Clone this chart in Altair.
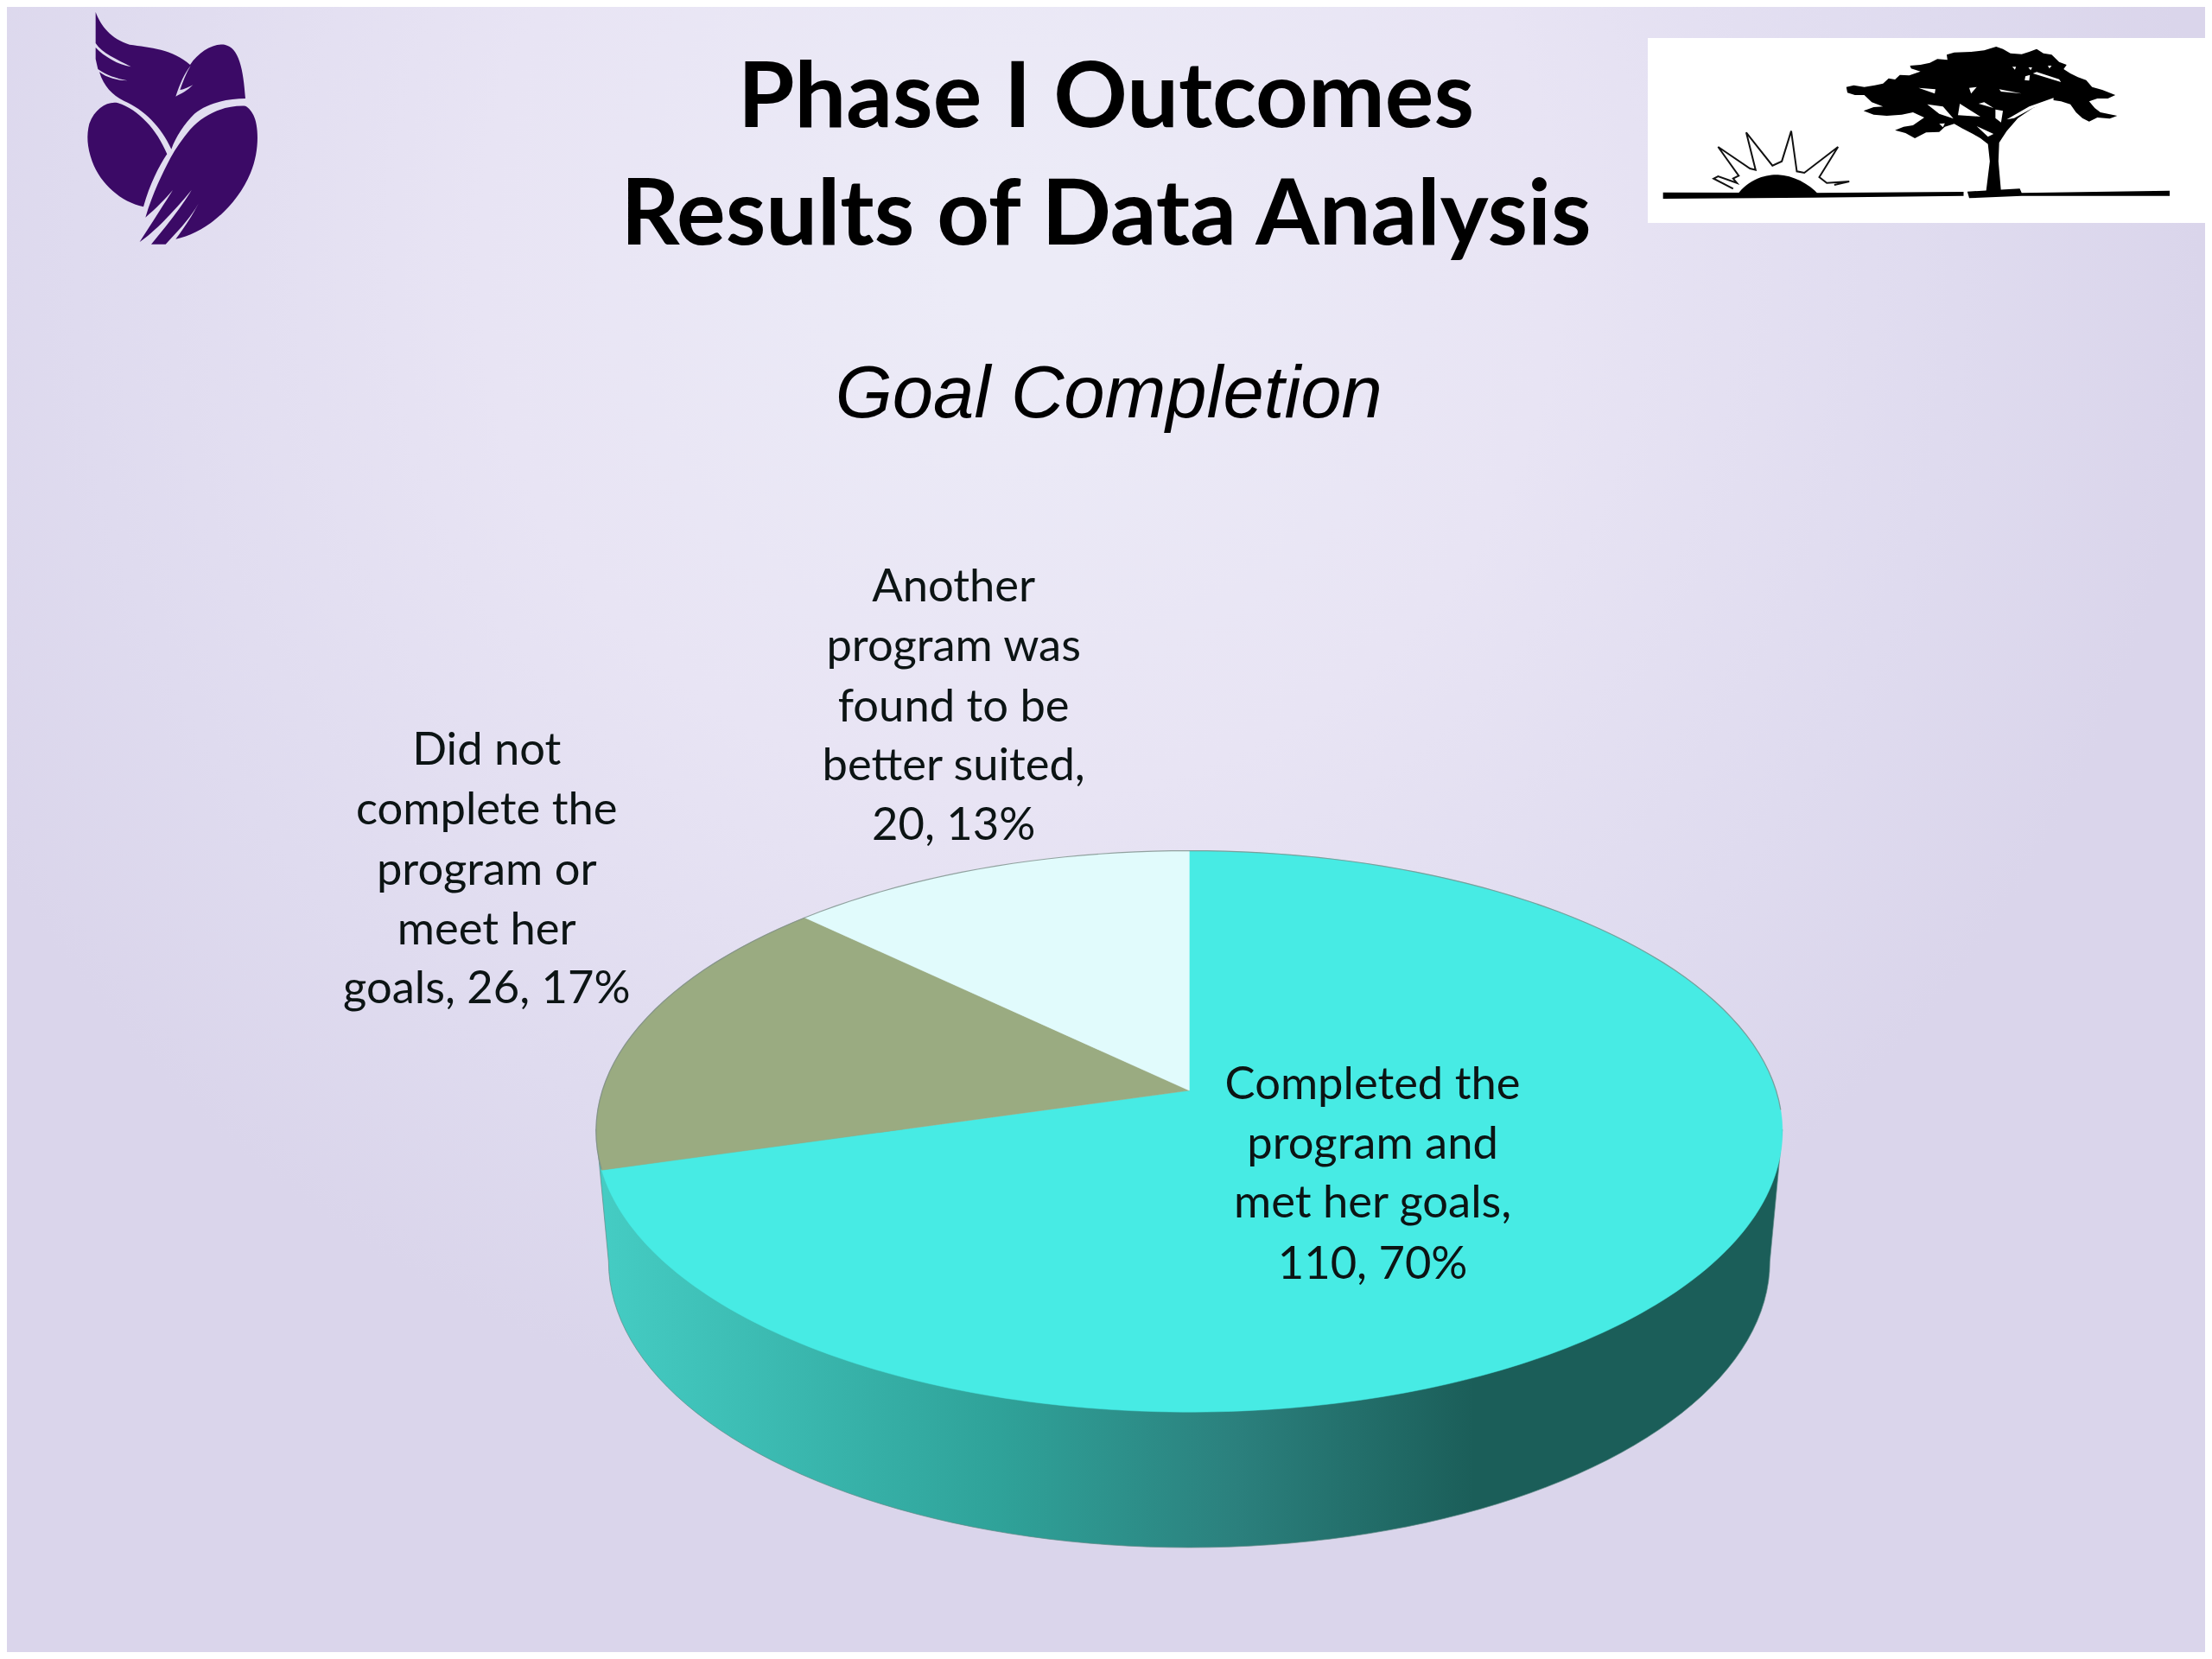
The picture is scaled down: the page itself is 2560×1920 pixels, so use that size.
import math
import re
import altair as alt
import pandas as pd

# ---------- chart values ----------
categories = ["Completed the program and met her goals",
              "Did not complete the program or meet her goals",
              "Another program was found to be better suited"]
counts = [110, 26, 20]
percents = ["70%", "17%", "13%"]
wedge_colors = ["#47ebe4", "#9aab81", "#e1fbfc"]

title_lines = ["Phase I Outcomes", "Results of Data Analysis"]
subtitle = "Goal Completion"
label_lines = [
    ["Completed the", "program and", "met her goals,", f"{counts[0]}, {percents[0]}"],
    ["Did not", "complete the", "program or", "meet her", f"goals, {counts[1]}, {percents[1]}"],
    ["Another", "program was", "found to be", "better suited,", f"{counts[2]}, {percents[2]}"],
]

# ---------- page geometry (reference pixels) ----------
M = 8
W, H = 2560 - M, 1920 - M   # right and bottom ends of the drawing
K = 2560 / 1568
X_SCALE = alt.Scale(domain=[M, W], nice=False, zero=False)
Y_SCALE = alt.Scale(domain=[H, M], nice=False, zero=False)
CX, R = 843 * K, 416 * K
GAMMA = 0.1457
ALPHA, BETA = -82.1 * K, 773 * K


def project(deg):
    """Point on the pie's rim seen in perspective; angle clockwise from the top."""
    t = math.radians(deg)
    x, y = math.sin(t), math.cos(t)
    d = 1 + GAMMA * y
    return CX + R * x / d, (ALPHA * y + BETA) / d


def xy_chart(rows):
    return alt.Chart(pd.DataFrame(rows, columns=["x", "y", "i"]))


def enc(chart):
    return chart.encode(
        x=alt.X("x:Q", scale=X_SCALE, axis=None),
        y=alt.Y("y:Q", scale=Y_SCALE, axis=None),
        order=alt.Order("i:Q"),
    )


layers = []

# background
bg = alt.Chart(pd.DataFrame({"a": [1]})).mark_rect(
    fill=alt.RadialGradient(
        gradient="radial", x1=0.46, y1=0.24, x2=0.46, y2=0.24, r1=0.03, r2=0.54,
        stops=[alt.GradientStop(offset=0, color="#ecebf7"),
               alt.GradientStop(offset=0.42, color="#e8e4f4"),
               alt.GradientStop(offset=0.78, color="#dfdbef"),
               alt.GradientStop(offset=1, color="#dad5eb")])
).encode(x=alt.value(0), x2=alt.value(W - M), y=alt.value(0), y2=alt.value(H - M))
layers.append(bg)

# pie side
BOT_A, BOT_CY, BOT_B = 672.0, 1460.0, 331.0
side = []
for n, d in enumerate(range(90, 271, 2)):
    t = math.radians(d)
    side.append((CX + BOT_A * math.sin(t), BOT_CY - BOT_B * math.cos(t), n))
left_top = min((project(d) for d in range(240, 300)), key=lambda p: p[0])
right_top = max((project(d) for d in range(60, 120)), key=lambda p: p[0])
side.append((left_top[0], left_top[1], 200))
side.append((right_top[0], right_top[1], 201))
side.append((side[0][0], side[0][1], 202))
side_grad = alt.LinearGradient(
    gradient="linear", x1=0, y1=0, x2=1, y2=0,
    stops=[alt.GradientStop(offset=0, color="#45cdc4"),
           alt.GradientStop(offset=0.34, color="#2fa299"),
           alt.GradientStop(offset=0.54, color="#2b807d"),
           alt.GradientStop(offset=0.74, color="#1b5e59"),
           alt.GradientStop(offset=1, color="#1b5e59")])
layers.append(enc(xy_chart(side).mark_line(fill=side_grad, stroke="#5f8a86", strokeWidth=1, strokeOpacity=0.7)))

# pie top: wedges from the values
total = sum(counts)
start = 0.0
for value, color in zip(counts, wedge_colors):
    end = start + value / total * 360
    pts = [(CX, BETA, 0)]
    steps = max(2, int((end - start)))
    for s in range(steps + 1):
        d = start + (end - start) * s / steps
        px, py = project(d)
        pts.append((px, py, s + 1))
    pts.append((CX, BETA, steps + 2))
    layers.append(enc(xy_chart(pts).mark_line(fill=color, stroke=color, strokeWidth=0.5)))
    start = end

# thin rim on the far edge
rim = [(*project(d), n) for n, d in enumerate(range(254, 456, 2))]
layers.append(enc(xy_chart(rim).mark_line(stroke="#7d8c88", strokeWidth=1.2, strokeOpacity=0.8)))


# logos, drawn as custom symbols
def place(path, sx, sy, ox, oy, ax, ay):
    nums = iter(range(10 ** 6))

    def rep(m):
        v = float(m.group(0))
        if next(nums) % 2 == 0:
            return f"{ox + v * sx - ax:.2f}"
        return f"{oy + v * sy - ay:.2f}"

    return re.sub(r"-?\d+\.?\d*", rep, path)


def symbol(path, ax, ay, color, filled=True, sw=0):
    kw = dict(shape=path, size=4, filled=filled, opacity=1)
    if filled:
        kw.update(fill=color, strokeWidth=0)
    else:
        kw.update(stroke=color, strokeWidth=sw, fill="transparent")
    return alt.Chart(pd.DataFrame({"x": [ax], "y": [ay]})).mark_point(**kw).encode(
        x=alt.X("x:Q", scale=X_SCALE, axis=None),
        y=alt.Y("y:Q", scale=Y_SCALE, axis=None))


DOVE = [
    "M152 42 C170 90 205 135 270 155 C340 165 420 170 480 225 C510 180 560 150 600 155 C650 165 665 240 672 342 C610 342 540 358 495 395 C460 430 430 475 415 518 C380 440 320 380 250 350 C210 330 180 300 165 250 C190 270 230 280 262 280 C225 272 190 262 160 240 L152 205 L152 165 C180 195 230 225 275 232 C225 205 175 185 152 150 Z",
    "M130 430 C150 375 195 350 230 358 C300 380 365 450 400 535 C370 580 340 640 318 718 C240 700 170 640 140 560 C122 510 120 470 130 430 Z",
    "M672 368 C600 365 530 395 480 450 C455 480 430 515 412 548 C385 600 350 670 325 755 C360 725 395 690 420 660 C395 700 350 770 305 840 C350 810 420 740 485 660 C450 720 385 800 345 848 L395 848 C430 810 480 760 510 705 C490 745 460 790 430 830 C530 810 640 720 690 600 C720 530 720 440 700 400 C690 380 680 372 672 368 Z",
]
DOVE_SLIT = "M482 228 C460 255 445 290 430 335 C450 325 470 315 490 295 C470 305 455 312 445 312 C455 285 465 255 482 228 Z"
for p in DOVE:
    layers.append(symbol(place(p, 1 / 3, 1 / 3, 60, 0, 210, 150), 210, 150, "#3b0a66"))
layers.append(symbol(place(DOVE_SLIT, 1 / 3, 1 / 3, 60, 0, 210, 150), 210, 150, "#dcd8ee"))

# white panel of the second logo
layers.append(alt.Chart(pd.DataFrame({"x": [1907], "x2": [W], "y": [44], "y2": [258]})).mark_rect(fill="#ffffff").encode(
    x=alt.X("x:Q", scale=X_SCALE, axis=None), x2="x2:Q",
    y=alt.Y("y:Q", scale=Y_SCALE, axis=None), y2="y2:Q"))

SX, SY, OX, OY = 0.4337, 1 / 3, 1880, 30
AX, AY = 2230, 150
TREE = "M592 212 L612 206 L640 212 L668 206 L690 200 L705 182 L722 186 L735 170 L760 172 L790 158 L765 148 L762 138 L790 135 L815 128 L835 115 L862 118 L860 100 L880 92 L925 90 L960 85 L992 72 L1010 80 L1030 95 L1060 98 L1080 90 L1100 80 L1118 95 L1140 100 L1160 125 L1180 135 L1172 150 L1190 165 L1210 178 L1232 188 L1248 212 L1275 222 L1310 240 L1290 252 L1262 252 L1240 262 L1255 285 L1270 300 L1315 312 L1295 322 L1262 318 L1240 332 L1222 320 L1205 300 L1190 272 L1165 262 L1145 258 L1090 285 L1050 320 L1020 365 L1000 405 L998 470 L1005 575 L965 575 L975 470 L970 410 L950 390 L930 375 L900 355 L880 340 L855 350 L840 368 L805 370 L775 390 L750 372 L722 362 L745 350 L770 345 L800 318 L770 300 L740 308 L700 312 L665 308 L638 295 L665 282 L690 280 L660 265 L640 240 L615 240 L595 232 Z"
HOLES = "M808 272 L850 280 L878 322 L840 305 Z M895 270 L950 315 L890 310 Z M990 290 L1010 295 L1005 335 L990 320 Z M940 348 L985 375 L970 385 Z M1020 325 L1080 280 L1145 250 L1145 265 L1090 285 L1040 320 Z M1070 175 L1082 170 L1080 190 L1068 188 Z M1090 165 L1165 195 L1160 185 L1100 160 Z M785 215 L830 220 L828 235 Z M920 215 L940 212 L925 235 Z M1000 220 L1060 235 L1005 228 Z M840 340 L855 338 L850 352 Z M945 270 L985 285 L960 265 Z M1035 142 L1045 142 L1042 152 Z M1078 144 L1088 144 L1084 154 Z M1130 138 L1140 138 L1134 148 Z"
GROUND = "M103 578 L500 580 L905 576 L905 590 L500 596 L103 600 Z M915 575 L1055 565 L1060 580 L1455 572 L1455 590 L1060 590 L920 598 Z"
SUN = "M300 588 C330 530 380 515 410 517 C450 520 490 545 520 588 Z"
RAYS = "M290 565 L238 530 L250 522 L300 545 L290 530 L305 520 L250 420 L335 495 L350 500 L325 370 L395 485 L420 470 L445 365 L460 505 L480 510 L570 420 L520 525 L540 545 L600 540 L560 552"
for p, col in [(TREE, "#000000"), (HOLES, "#ffffff"), (GROUND, "#000000"), (SUN, "#000000")]:
    layers.append(symbol(place(p, SX, SY, OX, OY, AX, AY), AX, AY, col))
layers.append(symbol(place(RAYS, SX, SY, OX, OY, AX, AY), AX, AY, "#111111", filled=False, sw=2))


# text
def text_layer(lines, x, ys, **style):
    df = pd.DataFrame({"t": lines, "x": [x] * len(lines), "y": ys})
    return alt.Chart(df).mark_text(align="center", baseline="middle", **style).encode(
        x=alt.X("x:Q", scale=X_SCALE, axis=None),
        y=alt.Y("y:Q", scale=Y_SCALE, axis=None),
        text="t:N")


layers.append(text_layer(title_lines, 784 * K, [70.5 * K, 153.5 * K],
                         font="Lato", fontWeight="bold", fontSize=106, color="#000000"))
layers.append(text_layer([subtitle], 786 * K, [280 * K],
                         font="Liberation Sans", fontStyle="italic", fontSize=85, color="#000000"))
label_style = dict(font="Lato", fontSize=52.5, color="#0c1414")
layers.append(text_layer(label_lines[0], 973 * K, [y * K for y in (769.5, 811.5, 853.5, 896.5)], **label_style))
layers.append(text_layer(label_lines[1], 345 * K, [y * K for y in (532.5, 574.5, 617.5, 659.5, 701.5)], **label_style))
layers.append(text_layer(label_lines[2], 676 * K, [y * K for y in (416.5, 458.5, 501.5, 543.5, 585.5)], **label_style))

chart = alt.layer(*layers).properties(
    width=W - M, height=H - M, padding=0,
).configure_view(stroke=None)

chart.save("out.html", embed_options={"renderer": "svg", "actions": False})
